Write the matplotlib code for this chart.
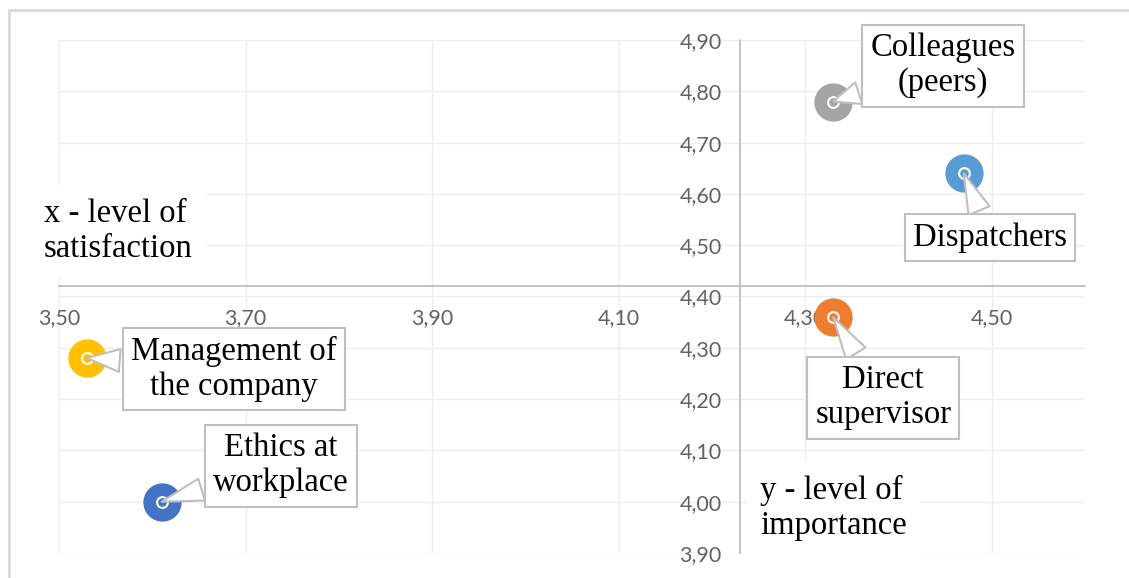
import numpy as np
import matplotlib
matplotlib.use("Agg")
import matplotlib.pyplot as plt
from matplotlib.patches import Rectangle

# data
categories = ["Colleagues\n(peers)", "Dispatchers", "Direct\nsupervisor",
              "Management of\nthe company", "Ethics at\nworkplace"]
satisfaction = [4.33, 4.47, 4.33, 3.53, 3.61]   # x
importance = [4.78, 4.64, 4.36, 4.28, 4.00]     # y
colors = ["#A5A5A5", "#5B9BD5", "#ED7D31", "#FFC000", "#4472C4"]

x_ticks = [3.5, 3.7, 3.9, 4.1, 4.3, 4.5]
x_labels = ["3,50", "3,70", "3,90", "4,10", "4,30", "4,50"]
y_ticks = [3.9, 4.0, 4.1, 4.2, 4.3, 4.4, 4.5, 4.6, 4.7, 4.8, 4.9]
y_labels = ["3,90", "4,00", "4,10", "4,20", "4,30", "4,40",
            "4,50", "4,60", "4,70", "4,80", "4,90"]

# where the callout boxes sit relative to each point (points)
label_offsets = [(79, 26), (19, -46), (36, -58), (106, -8), (86, 26)]

W, H = 1129, 578
fig = plt.figure(figsize=(W / 100, H / 100), dpi=100)
ax = fig.add_axes([59 / W, 1 - 553 / H, (1085 - 59) / W, (553 - 40) / H])
ax.set_xlim(3.5, 4.6)
ax.set_ylim(3.9, 4.9)

# axes cross inside the plot, Excel style
ax.spines["left"].set_position(("data", 4.23))
ax.spines["bottom"].set_position(("data", 4.42))
for s in ["top", "right"]:
    ax.spines[s].set_visible(False)
for s in ["left", "bottom"]:
    ax.spines[s].set_color("#BFBFBF")
    ax.spines[s].set_linewidth(1.3)

ax.set_xticks(x_ticks)
ax.set_xticklabels(x_labels, fontfamily="Lato")
ax.set_yticks(y_ticks)
ax.set_yticklabels(y_labels, fontfamily="Lato")
ax.tick_params(axis="x", length=0, labelsize=15.5, labelcolor="#626262", pad=16)
ax.tick_params(axis="y", length=0, labelsize=15.5, labelcolor="#626262", pad=13)
ax.grid(color="#EDEDED", lw=1)
ax.set_axisbelow(True)

for i in range(len(categories)):
    x, y, c = satisfaction[i], importance[i], colors[i]
    ax.scatter(x, y, s=760, color=c, linewidths=0, zorder=3)
    ax.scatter(x, y, s=60, facecolor=c, edgecolor="white", linewidths=1.5, zorder=4)
    ax.annotate(categories[i], (x, y), xytext=label_offsets[i],
                textcoords="offset points", ha="center", va="center",
                fontsize=23.5, fontfamily="Liberation Serif", color="black",
                linespacing=1.2, zorder=5,
                bbox=dict(boxstyle="square,pad=0.25", fc="white",
                          ec="#BFBFBF", lw=1.5),
                arrowprops=dict(arrowstyle="wedge,tail_width=0.7",
                                fc="white", ec="#BFBFBF", lw=1.5,
                                shrinkB=0))

# axis titles with white background
fig.text(44 / W, 1 - 231 / H, "x - level of\nsatisfaction", ha="left",
         va="center", fontsize=23.5, fontfamily="Liberation Serif",
         linespacing=1.2,
         bbox=dict(boxstyle="square,pad=0.4", fc="white", ec="none"))
fig.text(760 / W, 1 - 508 / H, "y - level of\nimportance", ha="left",
         va="center", fontsize=23.5, fontfamily="Liberation Serif",
         linespacing=1.2,
         bbox=dict(boxstyle="square,pad=0.4", fc="white", ec="none"))

# chart area border
fig.patches.append(Rectangle((9 / W, -0.1), 1.2, 1.1 - 10 / H,
                             transform=fig.transFigure, fill=False,
                             ec="#D9D9D9", lw=2))

fig.savefig("out.png", dpi=100)
